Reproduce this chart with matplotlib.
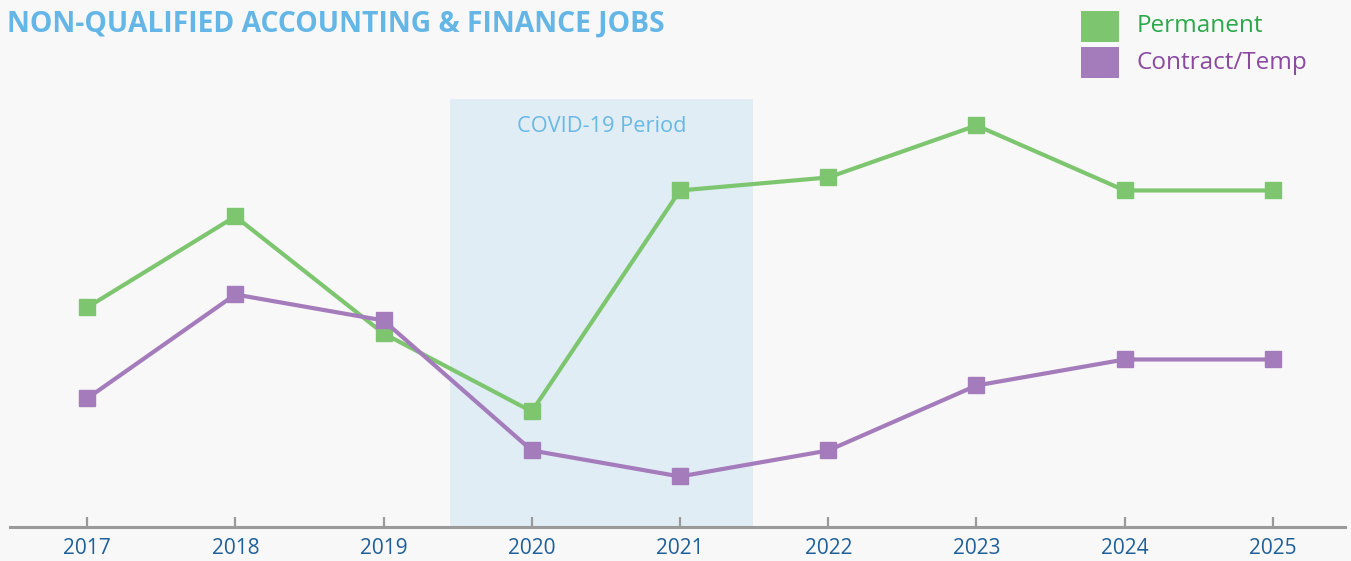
import matplotlib
matplotlib.use("Agg")
import matplotlib.pyplot as plt
from matplotlib.patches import Rectangle

years = [2017, 2018, 2019, 2020, 2021, 2022, 2023, 2024, 2025]
permanent = [17, 24, 15, 9, 26, 27, 31, 26, 26]
contract = [10, 18, 16, 6, 4, 6, 11, 13, 13]
tick_labels = [str(y) for y in years]
covid_start, covid_end, covid_top = 2019.45, 2021.49, 33

W, H = 1351, 561
fig = plt.figure(figsize=(W / 100, H / 100), dpi=100)
fig.patch.set_facecolor("#f8f8f8")
ax = fig.add_axes([10 / W, (H - 527) / H, (1345 - 10) / W, 527 / H])
ax.set_facecolor("#f8f8f8")

ax.add_patch(Rectangle((covid_start, 0), covid_end - covid_start, covid_top,
                       facecolor="#e0edf5", edgecolor="none", zorder=0))
ax.text((covid_start + covid_end) / 2, 30.95, "COVID-19 Period", ha="center", va="center",
        color="#6ab8e4", fontsize=15.7, family="Open Sans")

ax.plot(years, permanent, color="#7dc66f", lw=3, marker="s", markersize=11, zorder=3)
ax.plot(years, contract, color="#a57cbb", lw=3, marker="s", markersize=11, zorder=4)

ax.set_xlim(2016.48, 2025.486)
ax.set_ylim(0.115, 40.65)
for s in ["top", "right", "left"]:
    ax.spines[s].set_visible(False)
ax.spines["bottom"].set_color("#9a9a9a")
ax.spines["bottom"].set_linewidth(2.2)
ax.set_yticks([])
ax.set_xticks(years)
ax.set_xticklabels(tick_labels, family="Open Sans", fontsize=15, color="#1f5f99")
ax.tick_params(axis="x", direction="in", length=7, width=1.6, color="#9a9a9a", pad=8)

fig.text(7 / W, 1 - 24 / H, "NON-QUALIFIED ACCOUNTING & FINANCE JOBS", ha="left", va="center",
         color="#64b6e6", fontsize=20.3, fontweight="bold", family="Open Sans")

# legend
fig.patches.append(Rectangle((1081 / W, 1 - 42 / H), 38 / W, 31 / H, transform=fig.transFigure,
                             facecolor="#7dc66f", edgecolor="none"))
fig.patches.append(Rectangle((1081 / W, 1 - 78 / H), 38 / W, 31 / H, transform=fig.transFigure,
                             facecolor="#a57cbb", edgecolor="none"))
fig.text(1137 / W, 1 - 26 / H, "Permanent", ha="left", va="center", color="#2aa84a",
         fontsize=17.5, family="Open Sans")
fig.text(1137 / W, 1 - 63 / H, "Contract/Temp", ha="left", va="center", color="#8a4aa0",
         fontsize=17.5, family="Open Sans")

fig.savefig("out.png", dpi=100, facecolor=fig.get_facecolor())
